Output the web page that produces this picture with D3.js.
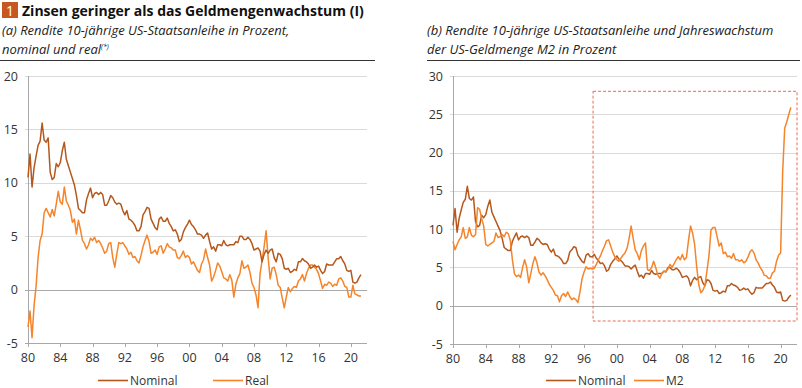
<!DOCTYPE html>
<html>
<head>
<meta charset="utf-8">
<script src="https://cdn.jsdelivr.net/npm/d3@7"></script>
<style>
  body { margin: 0; background: #fff; }
  svg text { font-family: "Open Sans", "Noto Sans", sans-serif; fill: #333; }
</style>
</head>
<body>
<div id="chart"></div>
<script>
// quarterly values, first quarter 1980
var startYear = 1980;

var nominal = [
  10.5, 12.7, 9.6, 11.4,   12.5, 13.5, 13.9, 15.6,   14.0, 13.8, 14.2, 11.0,   10.3, 10.5, 11.8, 11.5,
  11.9, 13.0, 13.8, 12.2,  11.6, 11.0, 10.4, 9.8,    8.8, 7.6, 7.4, 7.2,       7.2, 8.4, 9.0, 9.5,
  8.6, 9.0, 9.1, 8.9,      9.1, 8.9, 7.9, 7.9,       8.3, 8.8, 8.6, 8.2,       8.0, 8.1, 8.0, 7.4,
  7.0, 7.4, 6.6, 6.5,      6.3, 6.0, 5.5, 5.5,       5.9, 7.0, 7.3, 7.7,       7.6, 6.6, 6.2, 5.8,
  5.6, 6.6, 6.8, 6.4,      6.4, 6.7, 6.2, 5.9,       5.5, 5.6, 5.2, 4.5,       4.7, 5.4, 5.8, 6.1,
  6.5, 6.1, 5.9, 5.6,      5.2, 5.2, 5.1, 4.8,       5.1, 5.3, 4.5, 3.8,       4.0, 3.6, 4.2, 4.2,
  4.1, 4.6, 4.2, 4.1,      4.2, 4.2, 4.2, 4.5,       4.4, 5.0, 5.0, 4.7,       4.7, 4.9, 4.7, 4.3,
  3.7, 3.8, 3.9, 3.6,      2.6, 3.3, 3.7, 3.4,       3.7, 3.8, 3.0, 2.6,       3.4, 3.3, 2.9, 2.0,
  1.9, 2.0, 1.6, 1.7,      1.9, 1.8, 2.6, 2.6,       2.9, 2.7, 2.6, 2.4,       2.0, 2.1, 2.3, 2.1,
  2.2, 1.8, 1.5, 1.7,      2.4, 2.3, 2.3, 2.3,       2.6, 2.9, 2.9, 3.1,       2.7, 2.4, 1.8, 1.7,
  1.8, 0.7, 0.6, 0.7,      1.1, 1.4
];

var real = [
  -3.5, -2.0, -4.5, -1.5,  0.3, 3.0, 4.6, 5.2,       7.2, 7.6, 7.2, 6.8,       7.5, 6.9, 8.0, 9.2,
  8.2, 8.0, 9.6, 8.3,      7.9, 7.4, 6.3, 6.6,       5.2, 6.5, 5.6, 4.6,       4.3, 3.8, 4.2, 4.8,
  4.6, 4.9, 4.4, 4.6,      4.3, 3.9, 3.4, 3.6,       4.3, 4.4, 3.0, 2.1,       3.3, 4.4, 4.3, 4.4,
  4.1, 3.8, 3.3, 3.5,      3.0, 3.1, 2.7, 2.5,       3.2, 4.0, 4.6, 5.1,       4.5, 3.4, 3.5, 3.7,
  3.3, 4.0, 4.1, 3.4,      3.8, 4.3, 4.0, 3.9,       3.7, 3.7, 3.0, 2.9,       3.2, 3.6, 3.0, 3.2,
  3.0, 2.4, 2.6, 2.2,      1.8, 1.6, 2.4, 2.8,       3.8, 3.0, 2.3, 0.8,       1.2, 1.8, 2.5, 2.2,
  1.7, 1.1, 1.0, 0.8,      1.4, 0.9, -0.7, 0.5,      1.1, 1.5, 2.7, 2.0,       2.1, 2.3, 1.6, 0.6,
  0.2, -0.5, -1.7, 1.5,    2.7, 4.0, 5.5, 3.0,       1.0, 2.0, 2.1, 1.4,       0.4, 0.2, -0.8, -1.7,
  -0.7, 0.2, -0.2, 0.1,    0.3, 0.2, 0.8, 1.0,       1.4, 0.8, 1.5, 2.0,       2.3, 2.3, 2.1, 1.9,
  1.5, 0.8, 0.1, 0.5,      0.4, 0.7, 0.6, 0.3,       0.5, 0.4, 1.0, 1.1,       0.8, 0.3, 0.2, -0.7,
  -0.7, 0.4, -0.4, -0.5,   -0.6, -0.6
];

var m2 = [
  8.4, 7.3, 8.0, 8.6,      9.0, 10.2, 8.8, 9.0,      10.2, 9.2, 9.0, 9.3,      12.8, 12.6, 11.4, 10.4,
  8.0, 7.8, 8.0, 8.2,      8.4, 9.5, 8.9, 9.0,       9.3, 9.0, 9.6, 9.4,       8.5, 6.0, 4.2, 3.8,
  4.0, 3.7, 5.0, 6.0,      5.0, 3.0, 4.2, 5.5,       6.4, 5.6, 4.4, 4.0,       4.3, 3.9, 3.4, 2.8,
  2.4, 2.0, 1.4, 1.3,      0.5, 1.3, 1.6, 1.2,       1.8, 1.2, 0.8, 1.0,       0.8, 0.4, 1.8, 3.5,
  4.4, 5.1, 4.8, 4.9,      4.8, 4.9, 5.4, 6.0,       6.5, 7.2, 7.8, 8.5,       8.6, 7.8, 7.0, 6.4,
  6.0, 5.8, 6.2, 6.6,      6.9, 7.5, 8.8, 10.4,      8.8, 7.3, 6.8, 6.0,       7.2, 7.8, 8.2, 4.7,
  4.6, 5.0, 5.8, 5.0,      4.0, 3.6, 4.2, 4.5,       4.5, 4.8, 5.4, 5.0,       5.5, 6.0, 6.4, 6.0,
  6.7, 6.0, 6.3, 8.5,      10.4, 9.5, 8.0, 5.1,      2.8, 1.7, 2.0, 2.6,       4.5, 6.5, 9.9, 10.2,
  10.2, 9.0, 7.8, 8.2,     6.8, 7.0, 6.4, 6.5,       6.2, 6.8, 6.0, 6.0,       5.8, 6.0, 5.6, 5.8,
  6.3, 7.0, 7.3, 6.9,      6.0, 5.6, 5.0, 4.6,       4.0, 3.9, 3.6, 3.6,       4.3, 4.5, 5.8, 6.6,
  6.9, 17.5, 23.2, 24.0,   25.0, 25.9
];

var xTicks = [1980, 1984, 1988, 1992, 1996, 2000, 2004, 2008, 2012, 2016, 2020];
var yTicksA = [-5, 0, 5, 10, 15, 20];
var yTicksB = [-5, 0, 5, 10, 15, 20, 25, 30];
// highlighted region in panel (b): years and values
var boxYears = [1997.1, 2022];
var boxValues = [-2, 28];

var colNominal = "#b5581d";
var colOrange = "#f5842a";

var width = 802, height = 388;
var svg = d3.select("#chart").append("svg")
  .attr("width", width)
  .attr("height", height);

function toSeries(arr) {
  return arr.map(function(v, i) { return { t: startYear + i / 4, v: v }; });
}

// Title
svg.append("rect").attr("x", 2).attr("y", 2).attr("width", 16).attr("height", 16).attr("fill", "#c8571f");
svg.append("text").attr("x", 10).attr("y", 15.5).attr("text-anchor", "middle")
  .style("fill", "#fff").style("font-size", "14px").text("1");
svg.append("text").attr("x", 22).attr("y", 16)
  .style("font-weight", "bold").style("font-size", "14px").style("fill", "#111")
  .text("Zinsen geringer als das Geldmengenwachstum (I)");

function subtitle(x, lines, sup) {
  lines.forEach(function(l, i) {
    var t = svg.append("text").attr("x", x).attr("y", 35 + i * 19)
      .style("font-style", "italic").style("font-size", "13px").style("fill", "#222")
      .text(l);
    if (sup && i === lines.length - 1) {
      t.append("tspan").attr("dy", -5).style("font-size", "7px").text("(*)");
    }
  });
}
subtitle(2, ["(a) Rendite 10-jährige US-Staatsanleihe in Prozent,", "nominal und real"], true);
subtitle(427, ["(b) Rendite 10-jährige US-Staatsanleihe und Jahreswachstum", "der US-Geldmenge M2 in Prozent"], false);

svg.append("line").attr("x1", 0).attr("x2", 375).attr("y1", 60.5).attr("y2", 60.5).attr("stroke", "#333");
svg.append("line").attr("x1", 427).attr("x2", 800).attr("y1", 60.5).attr("y2", 60.5).attr("stroke", "#333");

function panel(opt) {
  var x = d3.scaleLinear().domain([1980, 2022]).range([opt.x0, opt.x1]);
  var y = d3.scaleLinear().domain([opt.yTicks[0], opt.yTicks[opt.yTicks.length - 1]]).range([opt.yb, opt.yt]);
  var g = svg.append("g");

  // gridlines
  g.append("g").selectAll("line").data(opt.yTicks).enter().append("line")
    .attr("x1", opt.x0 - 3).attr("x2", opt.x1)
    .attr("y1", function(d) { return Math.round(y(d)) + 0.5; })
    .attr("y2", function(d) { return Math.round(y(d)) + 0.5; })
    .attr("stroke", function(d) { return d === 0 || d === opt.yTicks[0] ? "#a8a8a8" : "#dadada"; });

  // y axis line
  g.append("line").attr("x1", opt.x0 + 0.5).attr("x2", opt.x0 + 0.5)
    .attr("y1", y(opt.yTicks[opt.yTicks.length - 1])).attr("y2", y(opt.yTicks[0]) + 4)
    .attr("stroke", "#a8a8a8");

  // y labels
  g.append("g").selectAll("text").data(opt.yTicks).enter().append("text")
    .attr("x", opt.x0 - 10).attr("y", function(d) { return y(d) + 4.5; })
    .attr("text-anchor", "end").style("font-size", "12.5px")
    .text(function(d) { return d; });

  // x ticks + labels
  g.append("g").selectAll("line").data(xTicks).enter().append("line")
    .attr("x1", function(d) { return Math.round(x(d)) + 0.5; })
    .attr("x2", function(d) { return Math.round(x(d)) + 0.5; })
    .attr("y1", y(opt.yTicks[0])).attr("y2", y(opt.yTicks[0]) + 4)
    .attr("stroke", "#a8a8a8");
  g.append("g").selectAll("text").data(xTicks).enter().append("text")
    .attr("x", function(d) { return x(d); }).attr("y", y(opt.yTicks[0]) + 19)
    .attr("text-anchor", "middle").style("font-size", "12.5px")
    .text(function(d) { return String(d).slice(2); });

  if (opt.box) {
    g.append("rect")
      .attr("x", x(boxYears[0])).attr("y", y(boxValues[1]))
      .attr("width", x(boxYears[1]) - x(boxYears[0]))
      .attr("height", y(boxValues[0]) - y(boxValues[1]))
      .attr("fill", "none").attr("stroke", "#ec6a55").attr("stroke-dasharray", "3,2");
  }

  var line = d3.line().x(function(d) { return x(d.t); }).y(function(d) { return y(d.v); });
  opt.series.forEach(function(s) {
    g.append("path").datum(toSeries(s.values))
      .attr("d", line).attr("fill", "none")
      .attr("stroke", s.color).attr("stroke-width", 1.5).attr("stroke-linejoin", "round");
  });

  // legend
  opt.legend.forEach(function(l) {
    g.append("line").attr("x1", l.x).attr("x2", l.x + 30).attr("y1", 380.5).attr("y2", 380.5)
      .attr("stroke", l.color).attr("stroke-width", 1.6);
    g.append("text").attr("x", l.x + 32).attr("y", 384.5).style("font-size", "12px").text(l.label);
  });
}

panel({
  x0: 28, x1: 367, yt: 76, yb: 343, yTicks: yTicksA,
  series: [{ values: real, color: colOrange }, { values: nominal, color: colNominal }],
  legend: [{ x: 98, color: colNominal, label: "Nominal" }, { x: 213, color: colOrange, label: "Real" }]
});

panel({
  x0: 453, x1: 797, yt: 76, yb: 344, yTicks: yTicksB, box: true,
  series: [{ values: nominal, color: colNominal }, { values: m2, color: colOrange }],
  legend: [{ x: 546, color: colNominal, label: "Nominal" }, { x: 634, color: colOrange, label: "M2" }]
});
</script>
</body>
</html>
